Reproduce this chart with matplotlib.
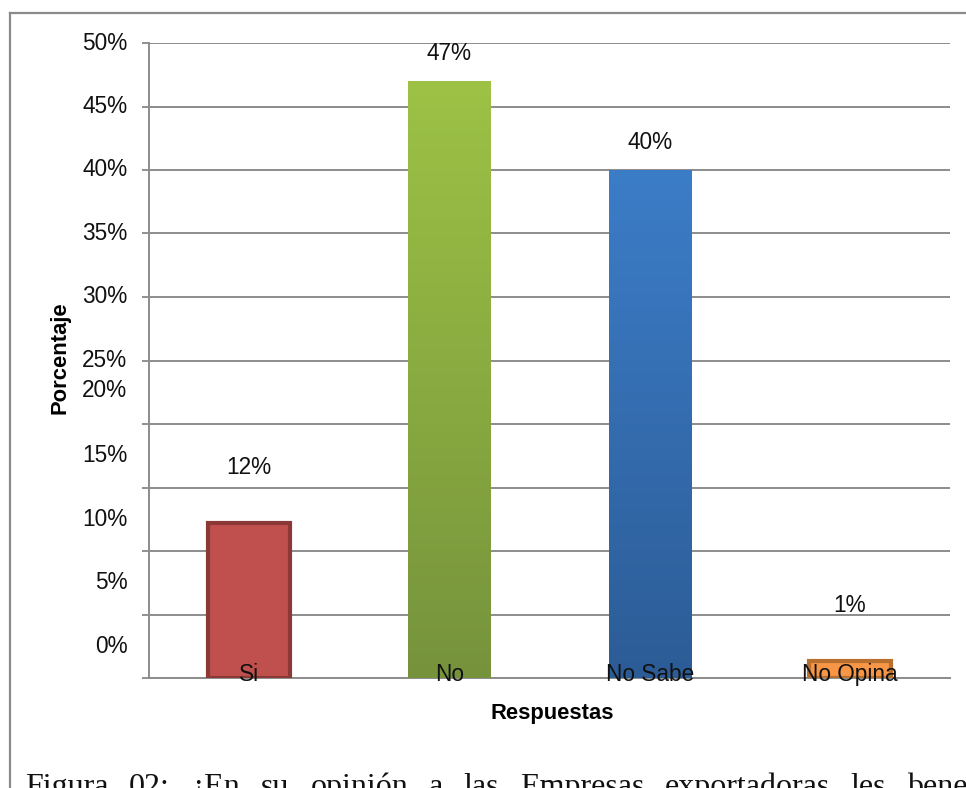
import numpy as np
import matplotlib
matplotlib.use('Agg')
import matplotlib.pyplot as plt
from matplotlib.colors import LinearSegmentedColormap
from matplotlib.lines import Line2D

# Datos del gráfico
categorias = ['Si', 'No', 'No Sabe', 'No Opina']
valores = [12.2, 47.0, 40.0, 1.3]
etiquetas = ['12%', '47%', '40%', '1%']
ticks_y = [0, 5, 10, 15, 20, 25, 30, 35, 40, 45, 50]
ticks_txt = ['0%', '5%', '10%', '15%', '20%', '25%', '30%', '35%', '40%', '45%', '50%']
# posiciones (en %) donde aparecen escritas las etiquetas del eje
ticks_pos = [2.5, 7.5, 12.5, 17.5, 22.6, 25, 30, 35, 40, 45, 50]
pie = ['Figura', '02:', '¿En', 'su', 'opinión', 'a', 'las', 'Empresas', 'exportadoras', 'les', 'benef']

# Estilos
colores_top = ['#C0504D', '#9DC245', '#3C7DC8', '#F79646']
colores_bot = ['#C0504D', '#76933C', '#2C5C96', '#F79646']
bordes = ['#8C3836', None, None, '#B9702F']
desp_etq = [40, 20, 20, 40]  # puntos sobre la barra
fs = 16.3

plt.rcParams['font.family'] = ['Liberation Sans', 'DejaVu Sans']

W, H = 966, 788
fig = plt.figure(figsize=(W / 100, H / 100), dpi=100)
ax = fig.add_axes([149 / W, 1 - 678 / H, (950 - 149) / W, (678 - 43) / H])

x = np.arange(len(categorias))
barras = ax.bar(x, valores, width=0.41, color=colores_top, zorder=3)

# degradado vertical y bordes
for i, b in enumerate(barras):
    x0, y0 = b.get_x(), b.get_y()
    x1, y1 = x0 + b.get_width(), y0 + b.get_height()
    if colores_top[i] != colores_bot[i]:
        cmap = LinearSegmentedColormap.from_list('g%d' % i, [colores_bot[i], colores_top[i]])
        grad = np.linspace(0, 1, 256).reshape(-1, 1)
        im = ax.imshow(grad, extent=(x0, x1, y0, y1), origin='lower', aspect='auto',
                       cmap=cmap, zorder=4)
        im.set_clip_path(b)
    if bordes[i]:
        b.set_edgecolor(bordes[i])
        b.set_linewidth(3)

ax.set_xlim(-0.5, 3.5)
ax.set_ylim(0, 50)

# etiquetas de valor
for i, b in enumerate(barras):
    ax.annotate(etiquetas[i], (b.get_x() + b.get_width() / 2, b.get_height()),
                xytext=(0, desp_etq[i]), textcoords='offset points',
                ha='center', va='center', fontsize=fs, color='#111111', zorder=6)

# nombres de categorías sobre la base
for i, c in enumerate(categorias):
    ax.annotate(c, (x[i], 0), xytext=(0, -2.5), textcoords='offset points',
                ha='center', va='baseline', fontsize=fs, color='#111111', zorder=6)

# eje y
ax.set_yticks(ticks_y)
ax.set_yticklabels([])
ax.tick_params(axis='y', length=5, width=1.3, color='#888888')
ax.set_xticks([])
for p, t in zip(ticks_pos, ticks_txt):
    ax.text(-0.027, p, t, transform=ax.get_yaxis_transform(), ha='right', va='center',
            fontsize=fs, color='#111111')

ax.grid(axis='y', color='#8C8C8C', linewidth=1.4, zorder=1)
for s in ['top', 'right']:
    ax.spines[s].set_visible(False)
for s in ['left', 'bottom']:
    ax.spines[s].set_color('#8C8C8C')
    ax.spines[s].set_linewidth(1.4)

fig.text(60 / W, 1 - 358 / H, 'Porcentaje', rotation=90, ha='center', va='center',
         fontsize=15.8, fontweight='bold')
fig.text(552 / W, 1 - 713 / H, 'Respuestas', ha='center', va='center',
         fontsize=15.8, fontweight='bold')

# marco del gráfico
fig.add_artist(Line2D([10 / W, 10 / W], [0, 1 - 13 / H], color='#8A8A8A', linewidth=1.6))
fig.add_artist(Line2D([10 / W, 1], [1 - 13 / H, 1 - 13 / H], color='#8A8A8A', linewidth=1.6))

# pie de figura justificado (cortado en el borde inferior como en el original)
rend = fig.canvas.get_renderer()
txts = [fig.text(0, 1 - 795 / H, w, ha='left', va='baseline', fontsize=23,
                 family=['Liberation Serif', 'DejaVu Serif'], color='#111111') for w in pie]
anchos = [t.get_window_extent(rend).width for t in txts]
x_ini, x_ult = 25, 907
hueco = (x_ult - x_ini - sum(anchos[:-1])) / (len(pie) - 1)
pos = x_ini
for t, a in zip(txts, anchos):
    t.set_x(pos / W)
    pos += a + hueco

fig.savefig('out.png', dpi=100)
